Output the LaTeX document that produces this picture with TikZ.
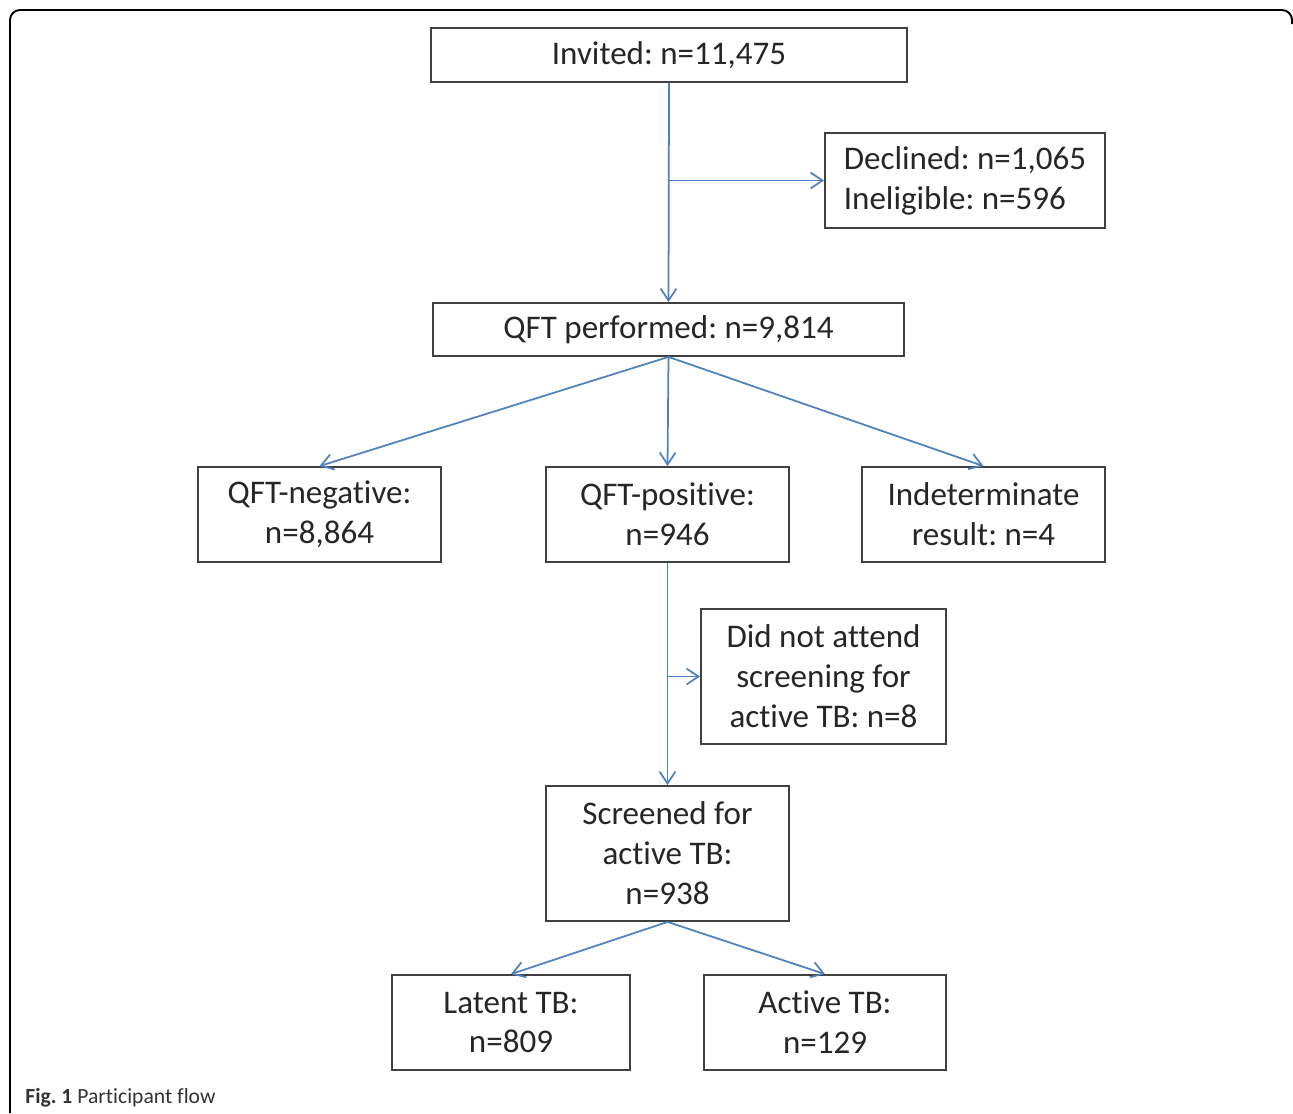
\documentclass[tikz,border=0pt]{standalone}
\usepackage{fontspec}
\setmainfont{Carlito}[Ligatures=NoCommon]
\usetikzlibrary{arrows.meta}
\definecolor{flowblue}{RGB}{79,129,189}
\definecolor{boxgrey}{RGB}{64,64,64}
\frenchspacing
\tikzset{
	box/.style={draw=boxgrey, line width=1.05pt, inner sep=0pt, align=center, text=black!85, font=\fontsize{18.8}{22.7}\selectfont},
	flow/.style={draw=flowblue, line width=1pt, -{Straight Barb[length=6.8pt, width=9pt]}}
}

\begin{document}
\begin{tikzpicture}[x=0.02cm, y=-0.02cm]
	\useasboundingbox (0,0) rectangle (1293,1113);
	%Frame
		\draw[line width=1.1pt, rounded corners=0.2cm] (10,1113) -- (10,10) -- (1292,10) -- (1292,24);
	%Invited
		\node[box, minimum width=9.52cm, minimum height=1.08cm] (invited) at (669,55) {Invited: n=11,475};
	%Declined / ineligible
		\node[box, minimum width=5.6cm, minimum height=1.9cm, align=left] (declined) at (965,180.5) {Declined: n=1,065\\Ineligible: n=596};
	%QFT performed
		\node[box, minimum width=9.42cm, minimum height=1.06cm] (qft) at (668.5,329.5) {QFT performed: n=9,814};
	%QFT results
		\node[box, minimum width=4.86cm, minimum height=1.9cm] (negative) at (319.5,514.5) {QFT-negative:\\n=8,864};
		\node[box, minimum width=4.86cm, minimum height=1.9cm] (positive) at (667.5,514.5) {QFT-positive:\\n=946};
		\node[box, minimum width=4.86cm, minimum height=1.9cm] (indet) at (983.5,514.5) {Indeterminate\\result: n=4};
	%Did not attend
		\node[box, minimum width=4.9cm, minimum height=2.7cm] (noshow) at (823.5,676.5) {Did not attend\\screening for\\active TB: n=8};
	%Screened
		\node[box, minimum width=4.86cm, minimum height=2.7cm] (screened) at (667.5,853.5) {Screened for\\active TB:\\n=938};
	%Latent / active
		\node[box, minimum width=4.76cm, minimum height=1.9cm] (latent) at (511,1022.5) {Latent TB:\\n=809};
		\node[box, minimum width=4.84cm, minimum height=1.9cm] (active) at (825,1022.5) {Active TB:\\n=129};
	%Invited->QFT performed
		\draw[flow] (invited.south) -- (qft.north);
		\coordinate (split1) at (invited.south |- declined.west);
		\draw[flow] (split1) -- (declined.west);
	%QFT performed->results
		\draw[flow] (qft.south) -- (negative.north);
		\draw[flow] (qft.south) -- (positive.north);
		\draw[flow] (qft.south) -- (indet.north);
	%QFT-positive->screened
		\draw[flow] (positive.south) -- (screened.north);
		\coordinate (split2) at (positive.south |- noshow.west);
		\draw[flow] (split2) -- (noshow.west);
	%Screened->latent, active
		\draw[flow] (screened.south) -- (latent.north);
		\draw[flow] (screened.south) -- (active.north);
	%Caption
		\node[anchor=base west, inner sep=0pt, font=\fontsize{12.3}{14}\selectfont, text=black!80] (caption) at (25,1103) {\textbf{Fig. 1} Participant flow};
\end{tikzpicture}
\end{document}
